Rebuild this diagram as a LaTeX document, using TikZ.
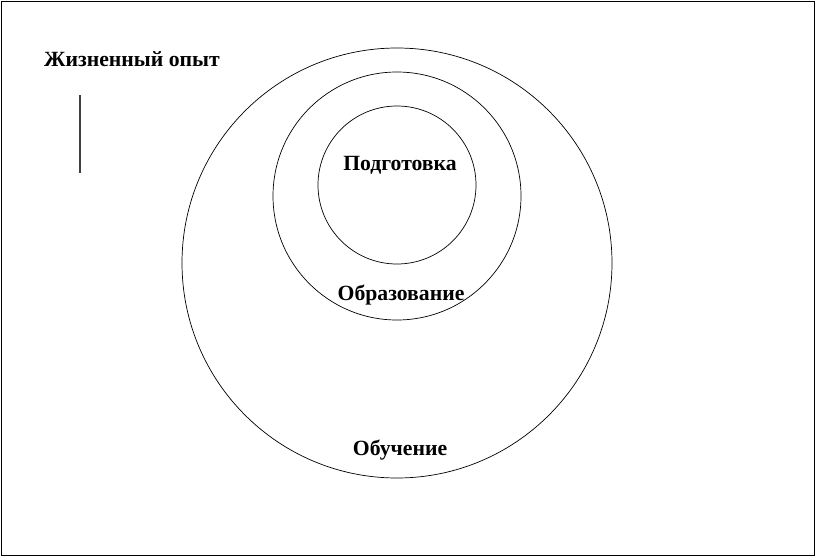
\documentclass[tikz,border=0pt]{standalone}
\usepackage{fontspec}
\setmainfont{Liberation Serif}
\usepackage{tikz}

\begin{document}
\begin{tikzpicture}[x=1pt, y=-1pt, lbl/.style={font=\fontsize{21.7}{26}\selectfont\bfseries, inner sep=0pt, anchor=base}]
\useasboundingbox (0, 0) rectangle (817, 557);
\draw[line width=1pt] (1.5, 1.5) rectangle (814, 555);

\node[lbl] (opyt) at (132, 66) { Жизненный опыт };
\coordinate (l1) at (80, 95);
\coordinate (l2) at (80, 173);
\draw[line width=1.3pt, black!75] (l1) -- (l2);

\draw[line width=0.7pt] (397, 263) circle (215);
\draw[line width=0.7pt] (397, 196) circle (124);
\draw[line width=0.7pt] (397, 185) circle (79);

\node[lbl] (podg) at (400, 170) { Подготовка };
\node[lbl] (obraz) at (401, 300) { Образование };
\node[lbl] (obuch) at (400, 455) { Обучение };
\end{tikzpicture}
\end{document}
